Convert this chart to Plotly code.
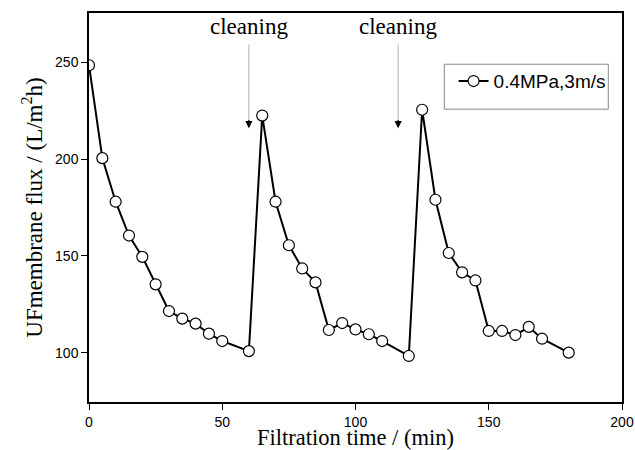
import plotly.graph_objects as go

time_min = [0, 5, 10, 15, 20, 25, 30, 35, 40, 45, 50, 60,
            65, 70, 75, 80, 85, 90, 95, 100, 105, 110, 120,
            125, 130, 135, 140, 145, 150, 155, 160, 165, 170, 180]
flux = [248.5, 200.5, 178, 160.5, 149.5, 135.3, 121.5, 117.6, 115, 109.8, 106, 100.8,
        222.5, 178, 155.5, 143.5, 136.3, 111.7, 115.3, 112, 109.5, 106, 98.3,
        225.5, 179, 151.5, 141.5, 137.3, 111.2, 111.2, 109.1, 113.3, 107.2, 100]
series_name = "0.4MPa,3m/s"
cleaning_x = [60, 116]
x_ticks = [0, 50, 100, 150, 200]
y_ticks = [100, 150, 200, 250]

fig = go.Figure()
fig.add_trace(go.Scatter(
    x=time_min, y=flux, name=series_name, mode="lines+markers",
    line=dict(color="black", width=2),
    marker=dict(symbol="circle", size=11, color="white",
                line=dict(color="black", width=1.2)),
))

for cx in cleaning_x:
    fig.add_annotation(x=cx, y=261, text="cleaning", showarrow=False,
                       xanchor="center", yanchor="bottom",
                       font=dict(family="Liberation Serif", size=23, color="black"))
    fig.add_annotation(x=cx, y=220, ax=cx, ay=260, xref="x", yref="y",
                       axref="x", ayref="y", text="", showarrow=True,
                       arrowhead=0, arrowwidth=1, arrowcolor="#b0b0b0")
    fig.add_annotation(x=cx, y=216, ax=cx, ay=221, xref="x", yref="y",
                       axref="x", ayref="y", text="", showarrow=True,
                       arrowhead=2, arrowsize=1.2, arrowwidth=1.2, arrowcolor="black")

# legend frame (taller than the single entry, as in the reference)
fig.add_shape(type="rect", xref="paper", yref="paper",
              x0=0.6666, x1=0.9743, y0=0.7528, y1=0.8683,
              line=dict(color="#888888", width=1), fillcolor="white", layer="below")

axis_common = dict(showline=True, linecolor="black", linewidth=1.5, mirror=True,
                   ticks="outside", ticklen=6, tickwidth=1.2, tickcolor="black",
                   showgrid=False, zeroline=False, automargin=False,
                   tickfont=dict(family="Liberation Sans", size=14, color="black"))

fig.update_xaxes(range=[0, 200], tickvals=x_ticks,
                 title=dict(text="Filtration time / (min)", standoff=7,
                            font=dict(family="Liberation Serif", size=22.5, color="black")),
                 **axis_common)
fig.update_yaxes(range=[74.5, 275.5], tickvals=y_ticks,
                 title=dict(text="UFmembrane flux / (L/m<sup>2</sup>h)" + "\u00a0" * 3, standoff=6,
                            font=dict(family="Liberation Serif", size=23, color="black")),
                 **axis_common)

fig.update_layout(
    width=635, height=450,
    margin=dict(l=89, r=13, t=13, b=48),
    plot_bgcolor="white", paper_bgcolor="white",
    showlegend=True,
    legend=dict(x=0.684, y=0.8735, xanchor="left", yanchor="top",
                bgcolor="rgba(0,0,0,0)", borderwidth=0,
                font=dict(family="Liberation Sans", size=19, color="black"),
                itemwidth=30),
)

fig.write_html("out.html")
